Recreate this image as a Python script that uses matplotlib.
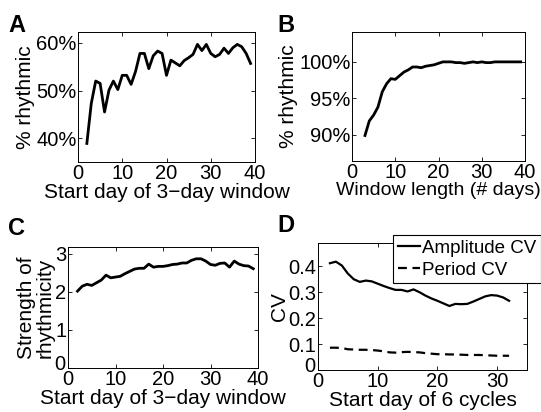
import matplotlib
matplotlib.use("Agg")
import matplotlib.pyplot as plt
import matplotlib.transforms as mtransforms
import numpy as np

plt.rcParams['font.family'] = ['Liberation Sans', 'DejaVu Sans']
plt.rcParams['font.size'] = 14.5
plt.rcParams['axes.labelsize'] = 15
plt.rcParams['xtick.labelsize'] = 14.5
plt.rcParams['ytick.labelsize'] = 14.5
plt.rcParams['axes.linewidth'] = 0.7
plt.rcParams['xtick.direction'] = 'in'
plt.rcParams['ytick.direction'] = 'in'
plt.rcParams['xtick.top'] = True
plt.rcParams['ytick.right'] = True
plt.rcParams['xtick.major.size'] = 3
plt.rcParams['ytick.major.size'] = 3
plt.rcParams['xtick.major.width'] = 0.6
plt.rcParams['ytick.major.width'] = 0.6
plt.rcParams['xtick.major.pad'] = 1.5
plt.rcParams['ytick.major.pad'] = 1

# === Données ===
# A : % rythmique selon le jour de début (fenêtre de 3 jours)
jours_a = np.arange(2, 40)
pct_a = [38.9, 47.3, 52.0, 51.5, 45.5, 50.1, 52.0, 50.2, 53.2, 53.2,
         51.3, 54.0, 57.8, 57.8, 54.6, 57.3, 58.3, 57.8, 53.2, 56.4,
         55.8, 55.2, 56.3, 56.9, 57.6, 59.7, 58.4, 59.7, 57.8, 57.1,
         57.6, 58.9, 57.8, 59.0, 59.7, 59.2, 57.8, 55.7]

# B : % rythmique selon la longueur de fenêtre
longueur_b = np.arange(3, 40)
pct_b = [89.9, 91.9, 92.7, 93.8, 95.9, 97.0, 97.7, 97.6, 98.1, 98.6,
         98.9, 99.3, 99.3, 99.2, 99.4, 99.5, 99.6, 99.8, 100.0, 100.0,
         100.0, 99.9, 99.9, 99.8, 99.9, 100.0, 99.9, 100.0, 99.9, 99.9,
         100.0, 100.0, 100.0, 100.0, 100.0, 100.0, 100.0]

# C : force de la rythmicité
jours_c = np.arange(2, 40)
force_c = [2.02, 2.15, 2.20, 2.17, 2.24, 2.31, 2.44, 2.37, 2.39, 2.41,
           2.48, 2.54, 2.60, 2.62, 2.62, 2.73, 2.65, 2.67, 2.67, 2.69,
           2.72, 2.73, 2.76, 2.76, 2.83, 2.87, 2.87, 2.81, 2.72, 2.70,
           2.75, 2.76, 2.65, 2.81, 2.73, 2.69, 2.68, 2.61]

# D : coefficients de variation
jours_d = np.arange(2, 33)
cv_amplitude = [0.412, 0.418, 0.403, 0.372, 0.350, 0.340, 0.345, 0.342, 0.333, 0.324,
                0.316, 0.309, 0.309, 0.303, 0.311, 0.300, 0.287, 0.276, 0.267, 0.257,
                0.247, 0.255, 0.254, 0.255, 0.264, 0.274, 0.284, 0.289, 0.287, 0.280,
                0.267]
cv_periode = [0.086, 0.086, 0.085, 0.080, 0.079, 0.078, 0.078, 0.077, 0.075, 0.072,
              0.068, 0.067, 0.069, 0.070, 0.069, 0.068, 0.065, 0.063, 0.061, 0.061,
              0.060, 0.060, 0.059, 0.058, 0.058, 0.058, 0.057, 0.056, 0.055, 0.055,
              0.055]

# === Figure ===
W, H = 541, 412
fig = plt.figure(figsize=(W / 100, H / 100), dpi=100)


def axes_px(left, top, right, bottom):
    return fig.add_axes([left / W, 1 - bottom / H, (right - left) / W, (bottom - top) / H])


def decaler_zero(ax):
    # le "0" de l'axe y remonte un peu pour ne pas chevaucher le "0" de l'axe x
    lab = ax.get_yticklabels()[0]
    lab.set_transform(lab.get_transform() + mtransforms.ScaledTranslation(-1 / 100, 5 / 100, fig.dpi_scale_trans))


lw = 2.0

# A
axA = axes_px(78, 32, 255, 162)
axA.plot(jours_a, pct_a, color='black', lw=lw)
axA.set_xlim(0, 40)
axA.set_ylim(35, 62.3)
axA.set_xticks([0, 10, 20, 30, 40])
axA.set_yticks([40, 50, 60])
axA.set_yticklabels(['40%', '50%', '60%'])
axA.set_xlabel("Start day of 3\u2212day window", labelpad=0)
axA.set_ylabel("% rhythmic", labelpad=1)

# B
axB = axes_px(352, 32, 525, 161)
axB.plot(longueur_b, pct_b, color='black', lw=lw)
axB.set_xlim(0, 40)
axB.set_ylim(86.4, 104.1)
axB.set_xticks([0, 10, 20, 30, 40])
axB.set_yticks([90, 95, 100])
axB.set_yticklabels(['90%', '95%', '100%'])
axB.set_xlabel("Window length (# days)", labelpad=0, fontsize=14)
axB.set_ylabel("% rhythmic", labelpad=1)

# C
axC = axes_px(68, 247, 258, 368)
axC.plot(jours_c, force_c, color='black', lw=lw)
axC.set_xlim(0, 40)
axC.set_ylim(0, 3.18)
axC.set_xticks([0, 10, 20, 30, 40])
axC.set_yticks([0, 1, 2, 3])
axC.set_yticklabels(['0', '1', '2', '3'])
decaler_zero(axC)
axC.set_xlabel("Start day of 3\u2212day window", labelpad=0)
axC.set_ylabel("Strength of\nrhythmicity", labelpad=0, linespacing=0.95)

# D
axD = axes_px(318, 243, 527, 370)
axD.plot(jours_d, cv_amplitude, color='black', lw=1.6, label='Amplitude CV')
axD.plot(jours_d, cv_periode, color='black', lw=1.6, ls=(0, (4, 2.5)), label='Period CV')
axD.set_xlim(0, 35)
axD.set_ylim(0, 0.49)
axD.set_xticks([0, 10, 20, 30])
axD.set_yticks([0, 0.1, 0.2, 0.3, 0.4])
axD.set_yticklabels(['0', '0.1', '0.2', '0.3', '0.4'])
decaler_zero(axD)
axD.set_xlabel("Start day of 6 cycles", labelpad=0)
axD.set_ylabel("CV", labelpad=0)
leg = axD.legend(loc='upper right', bbox_to_anchor=(541 / W, 1 - 235 / H),
                 bbox_transform=fig.transFigure, borderaxespad=0,
                 fancybox=False, edgecolor='black', framealpha=1,
                 handlelength=1.2, handletextpad=0.1, borderpad=0.25,
                 labelspacing=0.25, fontsize=13.5)
leg.get_frame().set_linewidth(0.8)

# Lettres des panneaux
for lettre, x, y in [('A', 8, 32), ('B', 277, 32), ('C', 8, 235), ('D', 277, 232)]:
    fig.text(x / W, 1 - y / H, lettre, fontsize=17, fontweight='bold', ha='left', va='baseline')

fig.savefig("out.png", dpi=100)
